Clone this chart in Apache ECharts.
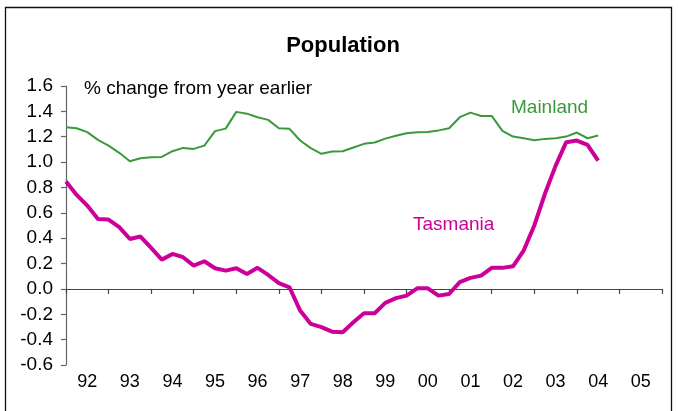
<!DOCTYPE html>
<html>
<head>
<meta charset="utf-8">
<script src="https://cdn.jsdelivr.net/npm/echarts@6/dist/echarts.min.js"></script>
<style>
html,body{margin:0;padding:0;background:#fff;}
#chart{width:678px;height:411px;}
</style>
</head>
<body>
<div id="chart"></div>
<script>
// Quarterly observations, 1992Q1 .. 2004Q3
var yearLabels = ['92','93','94','95','96','97','98','99','00','01','02','03','04','05'];
var mainland = [1.275,1.267,1.236,1.175,1.13,1.073,1.007,1.03,1.038,1.041,1.086,1.112,1.104,1.13,1.244,1.264,
  1.396,1.382,1.354,1.333,1.267,1.262,1.17,1.11,1.065,1.083,1.086,1.115,1.144,1.154,1.185,1.207,
  1.228,1.236,1.238,1.25,1.267,1.354,1.39,1.364,1.364,1.246,1.201,1.188,1.172,1.183,1.188,1.201,
  1.233,1.188,1.209];
var tasmania = [0.846,0.741,0.657,0.552,0.547,0.487,0.394,0.413,0.323,0.231,0.276,0.25,0.184,0.218,0.163,0.144,
  0.163,0.118,0.166,0.11,0.045,0.013,-0.171,-0.276,-0.302,-0.337,-0.342,-0.263,-0.192,-0.192,-0.11,-0.073,
  -0.053,0.005,0.005,-0.053,-0.04,0.053,0.087,0.105,0.166,0.166,0.178,0.302,0.5,0.75,0.97,1.157,
  1.17,1.136,1.012];
var yTicks = {min:-0.6, max:1.6, step:0.2};

var categories = [];
for (var y = 0; y < yearLabels.length; y++) {
  for (var q = 1; q <= 4; q++) categories.push(yearLabels[y] + 'Q' + q);
}
categories.push('06Q1');

var chart = echarts.init(document.getElementById('chart'));
var font = 'Liberation Sans, Arial, sans-serif';
chart.setOption({
  animation: false,
  grid: {left: 66, right: 16, top: 86, bottom: 46, containLabel: false},
  xAxis: [{
    type: 'category', data: categories, boundaryGap: false,
    axisLine: {onZero: true, lineStyle: {color: '#444', width: 1.2}},
    axisTick: {show: true, interval: 3, length: 5, inside: false, lineStyle: {color: '#444', width: 1.2}},
    axisLabel: {show: false}, splitLine: {show: false}
  }, {
    type: 'category', data: categories, boundaryGap: false, position: 'bottom',
    axisLine: {show: false, onZero: false}, axisTick: {show: false}, splitLine: {show: false},
    axisLabel: {
      show: true, margin: 8, color: '#000', fontSize: 18, fontFamily: font,
      interval: function (i) { return i % 4 === 2; },
      formatter: function (v, i) { return yearLabels[(i - 2) / 4]; }
    }
  }],
  yAxis: {
    type: 'value', min: yTicks.min, max: yTicks.max, interval: yTicks.step,
    axisLine: {show: true, lineStyle: {color: '#666', width: 1.2}},
    axisTick: {show: true, length: 5, lineStyle: {color: '#666', width: 1.2}},
    splitLine: {show: false},
    axisLabel: {margin: 13, color: '#000', fontSize: 19, fontFamily: font,
      formatter: function (v) { return (Math.abs(v) < 1e-9 ? 0 : v).toFixed(1); }}
  },
  series: [{
    name: 'Mainland', type: 'line', data: mainland, showSymbol: false, symbol: 'none',
    lineStyle: {color: '#3a9a3a', width: 2}, z: 3
  }, {
    name: 'Tasmania', type: 'line', data: tasmania, showSymbol: false, symbol: 'none',
    lineStyle: {color: '#cc0099', width: 4}, z: 4
  }],
  graphic: [
    {type: 'rect', shape: {x: 5.5, y: 7.5, width: 666, height: 430},
     style: {fill: 'none', stroke: '#111', lineWidth: 1.3}, silent: true},
    {type: 'text', x: 343, y: 46, style: {text: 'Population', fill: '#000', font: 'bold 22px ' + font,
      textAlign: 'center', textVerticalAlign: 'middle'}},
    {type: 'text', x: 84, y: 89, style: {text: '% change from year earlier', fill: '#000', font: '19px ' + font,
      textAlign: 'left', textVerticalAlign: 'middle'}},
    {type: 'text', x: 511, y: 108, style: {text: 'Mainland', fill: '#3a9a3a', font: '19px ' + font,
      textAlign: 'left', textVerticalAlign: 'middle'}},
    {type: 'text', x: 413, y: 225, style: {text: 'Tasmania', fill: '#cc0099', font: '19px ' + font,
      textAlign: 'left', textVerticalAlign: 'middle'}}
  ]
});
</script>
</body>
</html>
